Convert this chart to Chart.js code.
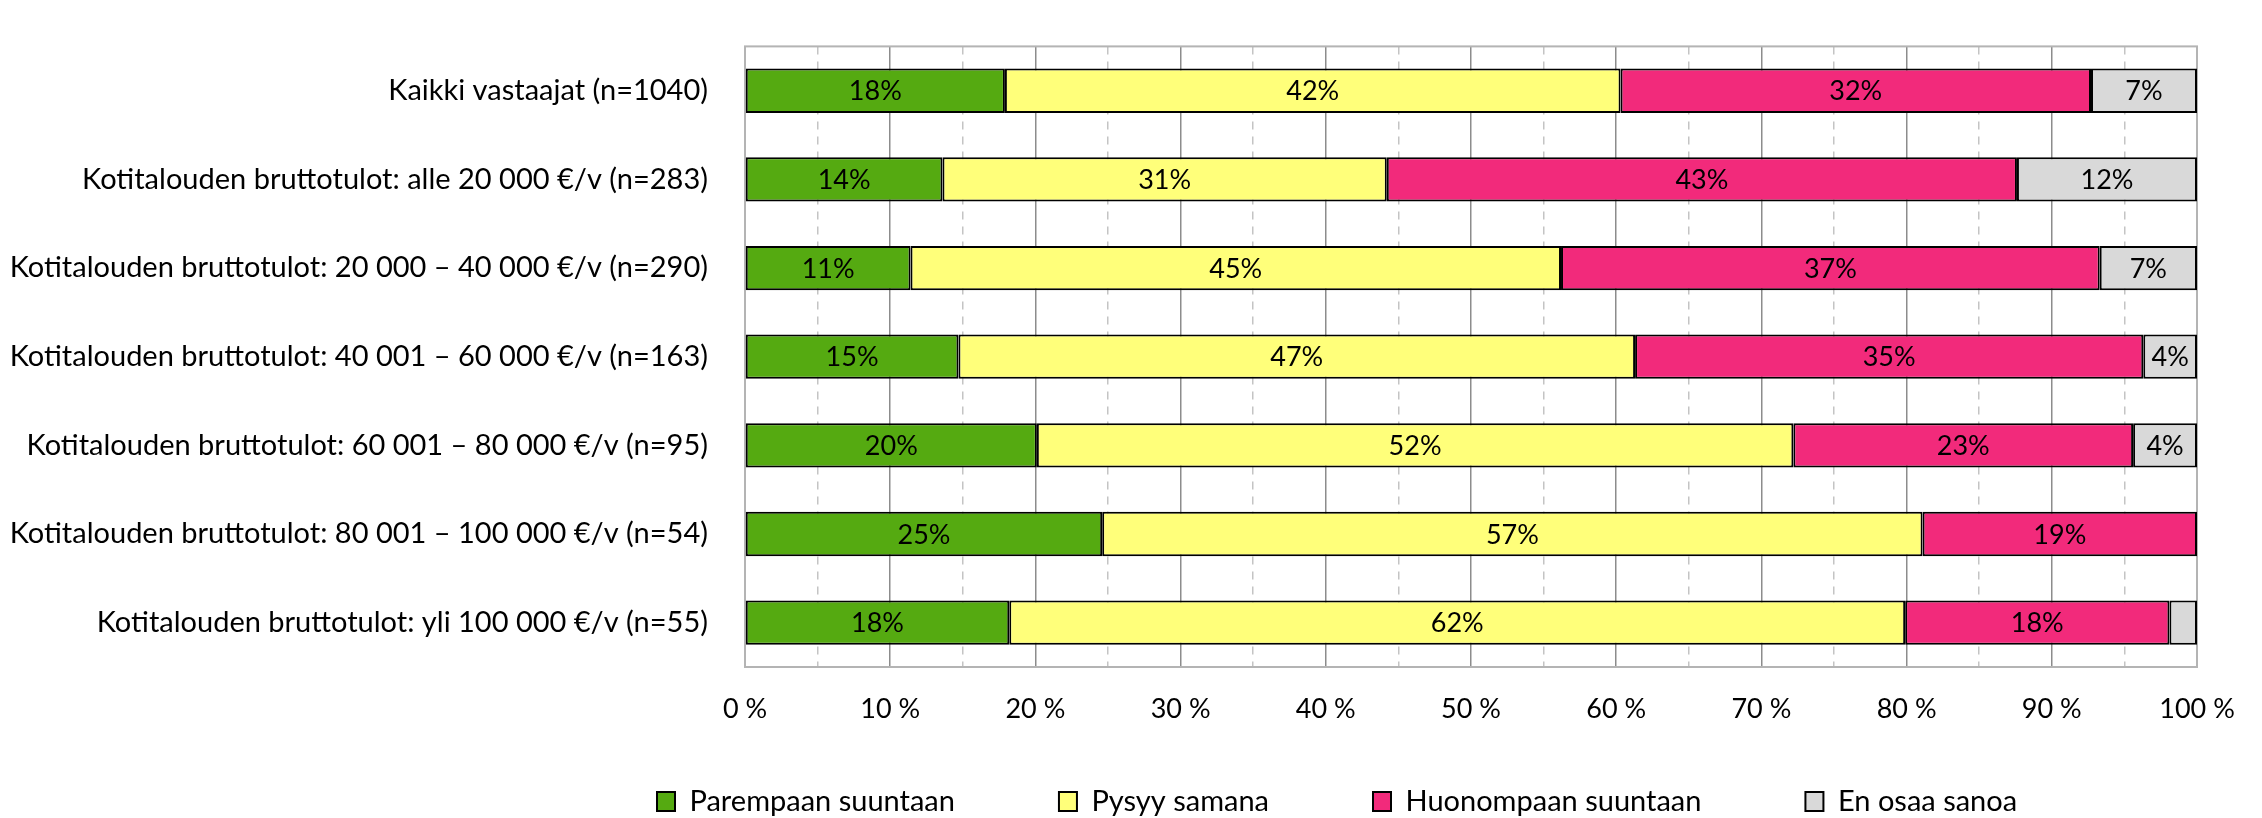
<!DOCTYPE html>
<html>
<head>
<meta charset="utf-8">
<script src="https://cdn.jsdelivr.net/npm/chart.js@4.4.1/dist/chart.umd.min.js"></script>
<style>
  html, body { margin: 0; padding: 0; background: #fff; }
  #wrap { width: 2262px; height: 818px; }
</style>
</head>
<body>
<div id="wrap"><canvas id="incomeChart" width="2262" height="818"></canvas></div>
<script>
const categories = [
  "Kaikki vastaajat (n=1040)",
  "Kotitalouden bruttotulot: alle 20 000 €/v (n=283)",
  "Kotitalouden bruttotulot: 20 000 – 40 000 €/v (n=290)",
  "Kotitalouden bruttotulot: 40 001 – 60 000 €/v (n=163)",
  "Kotitalouden bruttotulot: 60 001 – 80 000 €/v (n=95)",
  "Kotitalouden bruttotulot: 80 001 – 100 000 €/v (n=54)",
  "Kotitalouden bruttotulot: yli 100 000 €/v (n=55)"
];
const seriesNames = ["Parempaan suuntaan", "Pysyy samana", "Huonompaan suuntaan", "En osaa sanoa"];
const better   = [17.9, 13.6, 11.4, 14.7, 20.1, 24.6, 18.2];
const same     = [42.4, 30.6, 44.8, 46.6, 52.1, 56.5, 61.7];
const worse    = [32.4, 43.4, 37.1, 35.0, 23.4, 18.9, 18.2];
const dontKnow = [7.3, 12.4, 6.7, 3.7, 4.4, 0, 1.9];
const tickValues = [0, 10, 20, 30, 40, 50, 60, 70, 80, 90, 100];

const FONT = "Lato, 'Open Sans', sans-serif";
const colors = ["#55aa11", "#ffff7a", "#f22a7b", "#d9d9d9"];

// value labels inside the bars
const barLabels = {
  id: "barLabels",
  afterDatasetsDraw(chart) {
    const ctx = chart.ctx;
    ctx.save();
    ctx.font = "27px " + FONT;
    ctx.fillStyle = "#000";
    ctx.textAlign = "center";
    ctx.textBaseline = "middle";
    chart.data.datasets.forEach((ds, i) => {
      chart.getDatasetMeta(i).data.forEach((bar, j) => {
        const v = ds.data[j];
        if (v < 3) return;
        ctx.fillText(Math.round(v) + "%", (bar.x + bar.base) / 2, bar.y + 1);
      });
    });
    ctx.restore();
  }
};

// light frame round the plot area
const plotFrame = {
  id: "plotFrame",
  beforeDatasetsDraw(chart) {
    const a = chart.chartArea, ctx = chart.ctx;
    ctx.save();
    ctx.strokeStyle = "#b4b4b4";
    ctx.lineWidth = 2;
    ctx.strokeRect(a.left, a.top, a.right - a.left, a.bottom - a.top);
    ctx.restore();
  }
};

// move the legend row to where the reference has it
const legendPlace = {
  id: "legendPlace",
  afterLayout(chart) {
    const lg = chart.legend;
    lg.top = 683;
    lg.bottom = chart.height;
    lg.height = lg.bottom - lg.top;
    lg.left += 553;
    lg.right = chart.width;
  }
};

const incomeChart = new Chart(document.getElementById("incomeChart"), {
  type: "bar",
  data: {
    labels: categories,
    datasets: [better, same, worse, dontKnow].map((d, i) => ({
      label: seriesNames[i],
      data: d,
      backgroundColor: colors[i],
      borderColor: "#000",
      borderWidth: 2,
      borderSkipped: false,
      barPercentage: 0.5,
      categoryPercentage: 1
    }))
  },
  options: {
    indexAxis: "y",
    responsive: false,
    animation: false,
    devicePixelRatio: 1,
    layout: { padding: { left: 0, right: 65, top: 5, bottom: 0 } },
    plugins: {
      tooltip: { enabled: false },
      legend: {
        position: "bottom",
        align: "start",
        maxHeight: 70,
        labels: {
          color: "#000",
          font: { family: FONT, size: 29 },
          boxWidth: 18,
          boxHeight: 19,
          padding: 104
        }
      }
    },
    scales: {
      y: {
        stacked: true,
        grid: { display: false },
        border: { display: false },
        ticks: { color: "#000", font: { family: FONT, size: 29 }, padding: 29, autoSkip: false },
        afterFit(scale) { scale.width = 745; }
      },
      x: {
        stacked: true,
        min: 0,
        max: 100,
        ticks: {
          stepSize: 5,
          autoSkip: false,
          maxRotation: 0,
          color: "#000",
          font: { family: FONT, size: 27 },
          padding: 26,
          callback: v => tickValues.includes(v) ? v + " %" : ""
        },
        grid: {
          drawTicks: false,
          lineWidth: 1.5,
          color: c => (c.tick && c.tick.value % 10 !== 0) ? "#c4c4c4" : "#8c8c8c"
        },
        border: {
          color: "#b4b4b4",
          width: 2,
          dash: c => (c.tick && c.tick.value % 10 !== 0) ? [8, 7] : []
        },
        afterFit(scale) { scale.height = 81; }
      }
    }
  },
  plugins: [barLabels, plotFrame, legendPlace]
});
</script>
</body>
</html>
